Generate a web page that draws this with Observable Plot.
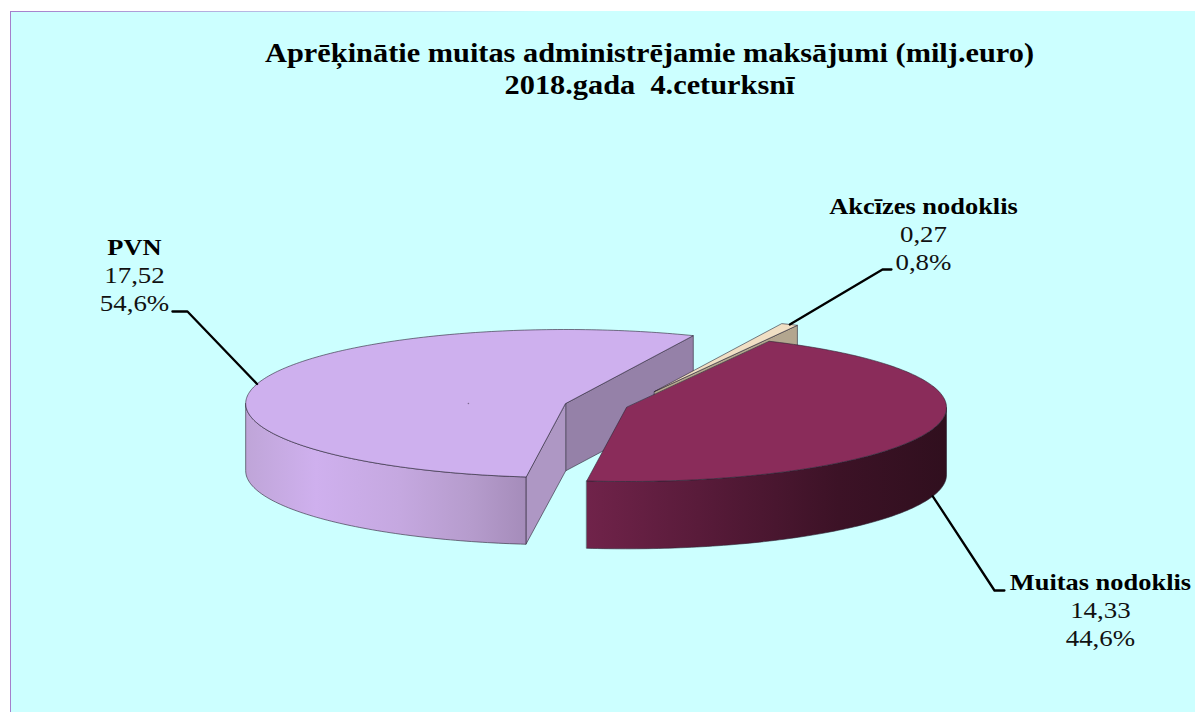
<!DOCTYPE html>
<html><head><meta charset="utf-8">
<script src="https://cdn.jsdelivr.net/npm/d3@7"></script>
<script src="https://cdn.jsdelivr.net/npm/@observablehq/plot@0.6"></script>
<style>
html,body{margin:0;padding:0;background:#fff;overflow:hidden}
#chart{width:1195px;height:712px;overflow:hidden}
#chart svg{display:block;margin:11px 0 0 10px;background:#ccffff;
 border-style:solid;border-width:1px 0 0 1px;border-image:linear-gradient(to right,#a57fcb,#ccffff 45%) 1;max-width:none}
</style></head><body><div id="chart"></div>
<script>
// ---- data
const categories = ["PVN", "Muitas nodoklis", "Akcīzes nodoklis"];
const values = [17.52, 14.33, 0.27];
const percents = ["54,6%", "44,6%", "0,8%"];
const titleLines = ["Aprēķinātie muitas administrējamie maksājumi (milj.euro)", "2018.gada  4.ceturksnī"];

// ---- layout (in unit-ellipse space)
const startAngle = 66.5, depth = 0.91;
const explode = [[-0.14, 0], [0.05, -0.054], [0.1375, 0.162]];
const elbow = [[-1.322, 1.243, -1.369], [1.2, -2.527, 1.231], [0.85, 1.811, 0.878]];
const labelAt = [[-1.4875, 2.108], [1.531, -2.419], [0.978, 2.662]];
const titleAt = [[0.122, 4.735], [0.122, 4.30]];
const speck = [{x: -0.444, y: 0}];
const textStretch = 1.12;

// ---- styles
const tops = ["#ceb0ee", "#8a2c5a", "#f0dfc4"];
const font = "'Liberation Serif','Times New Roman',serif";
const edge = "#2b2433";

// ---- slice geometry from the values
const total = d3.sum(values);
let acc = startAngle;
const slices = values.map((v, i) => {
  const a0 = acc, a1 = acc + v / total * 360; acc = a1;
  return {i, a0, a1, mid: (a0 + a1) / 2, c: explode[i]};
});
const rad = Math.PI / 180;
const rim = (s, a, dz = 0) => ({x: s.c[0] + Math.cos(a * rad), y: s.c[1] + Math.sin(a * rad) - dz});
const apex = (s, dz = 0) => ({x: s.c[0], y: s.c[1] - dz});
const arc = (s, a, b, dz = 0) => { const n = Math.max(2, Math.ceil(Math.abs(b - a))); return d3.range(n + 1).map(k => rim(s, a + (b - a) * k / n, dz)); };
const topFace = s => [apex(s), ...arc(s, s.a0, s.a1)];
const cutWall = (s, a) => [apex(s), rim(s, a), rim(s, a, depth), apex(s, depth)];
const outerWall = (s, a, b) => [...arc(s, a, b), ...arc(s, b, a, depth)];
const poly = (pts, fill) => Plot.line(pts, {x: "x", y: "y", curve: "linear-closed", fill, stroke: edge, strokeWidth: 0.7, strokeOpacity: 0.85});

const [pvn, muitas, akc] = slices;

function gradient(id, stops) {
  const g = d3.create("svg:linearGradient").attr("id", id);
  stops.forEach(([o, c]) => g.append("stop").attr("offset", o).attr("stop-color", c));
  return g.node();
}
const defs = () => {
  const d = d3.create("svg:defs");
  d.append(() => gradient("wallA", [[0, "#bfa5d8"], [0.25, "#cfb0ee"], [0.55, "#c5a8e0"], [0.8, "#b69ccd"], [1, "#a58cba"]]));
  d.append(() => gradient("wallB", [[0, "#70234a"], [0.35, "#561a38"], [0.7, "#3c1226"], [1, "#300f1e"]]));
  return d.node();
};

// ---- leaders
const leaders = slices.map(s => {
  const lower = Math.sin(s.mid * rad) < 0;
  const e = elbow[s.i];
  return [rim(s, s.mid, lower ? depth : 0), {x: e[0], y: e[1]}, {x: e[2], y: e[1]}];
});

const labelData = slices.map(s => ({
  x: labelAt[s.i][0], y: labelAt[s.i][1], name: categories[s.i],
  val: values[s.i].toFixed(2).replace(".", ","), pct: percents[s.i]
}));
const titleData = titleLines.map((t, i) => ({t, x: titleAt[i][0], y: titleAt[i][1]}));

const plot = Plot.plot({
  width: 1184, height: 700, margin: 0,
  x: {domain: [-599 / 320, 585 / 320], range: [0, 1184], axis: null},
  y: {domain: [391 / 74, -309 / 74], range: [0, 700], axis: null},
  style: {background: "#ccffff", overflow: "hidden"},
  marks: [
    defs,
    poly(cutWall(pvn, pvn.a0), "#9581a8"),
    poly(cutWall(pvn, pvn.a1), "#ae97c4"),
    poly(outerWall(pvn, 180, pvn.a1), "url(#wallA)"),
    poly(topFace(pvn), tops[0]),
    Plot.dot(speck, {x: "x", y: "y", r: 0.8, fill: "#7d6a90"}),
    poly(cutWall(akc, akc.a0), "#b3a68f"),
    poly(topFace(akc), tops[2]),
    poly(outerWall(muitas, muitas.a0, 360), "url(#wallB)"),
    poly(topFace(muitas), tops[1]),
    leaders.map(l => Plot.line(l, {x: "x", y: "y", stroke: "#000", strokeWidth: 2.3})),
    Plot.text(titleData, {x: "x", y: "y", text: "t", fontFamily: font, fontWeight: "bold", fontSize: 27.1, fill: "#000"}),
    Plot.text(labelData, {x: "x", y: "y", text: "name", fontFamily: font, fontWeight: "bold", fontSize: 23.6, fill: "#000"}),
    Plot.text(labelData, {x: "x", y: "y", text: "val", dy: 28, fontFamily: font, fontSize: 24, fill: "#111"}),
    Plot.text(labelData, {x: "x", y: "y", text: "pct", dy: 56, fontFamily: font, fontSize: 24, fill: "#111"})
  ]
});
// the reference's lettering is stretched sideways
plot.querySelectorAll("text").forEach(t => {
  t.setAttribute("transform", `${t.getAttribute("transform") || ""} scale(${textStretch},1)`);
});
document.getElementById("chart").append(plot);
</script></body></html>
